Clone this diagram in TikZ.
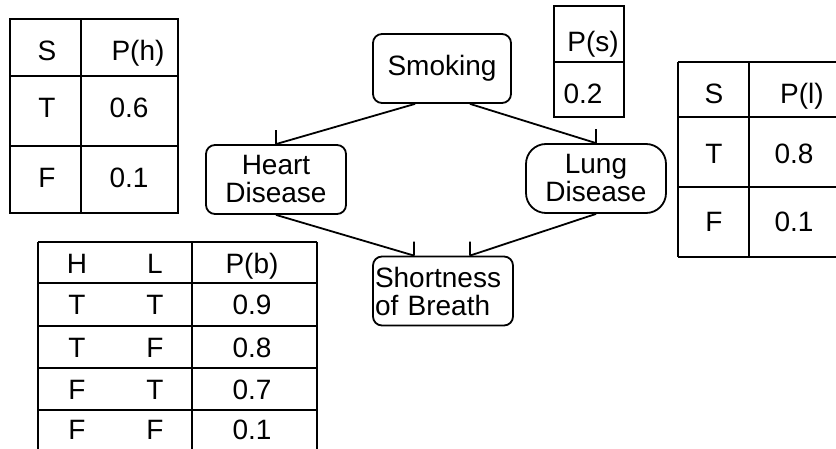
\documentclass[tikz,border=0pt]{standalone}
\usepackage{fontspec}
\setmainfont{Liberation Sans}
\usetikzlibrary{calc}

\begin{document}
\begin{tikzpicture}[x=1pt,y=-1pt,line width=1.8pt,
  every node/.style={font=\fontsize{28}{28}\selectfont},
  var/.style={draw,rounded corners=9pt,minimum width=140pt,minimum height=69pt,
    inner sep=1pt,align=center},
  cell/.style={inner sep=0pt,text height=20pt,text depth=0pt}]
  \useasboundingbox[fill=white] (0,0) rectangle (836,449);

  % network
  \node[var,minimum width=138pt] (smk) at (442,68.5) {Smoking};
  \node[var] (hd) at (276,179.5) {Heart\\Disease};
  \node[var,rounded corners=20pt] (ld) at (596,178.5) {Lung\\Disease};
  \node[var,align=left,text width=136pt] (sob) at (443,291) {Shortness\\of Breath};

  \draw ([xshift=-27pt]smk.south) -- (hd.north) ++(0,-14) -- (hd.north);
  \draw ([xshift=28pt]smk.south) -- (ld.north) ++(0,-14) -- (ld.north);
  \draw (hd.south) -- ([xshift=-29pt]sob.north) ++(0,-14) -- ([xshift=-29pt]sob.north);
  \draw (ld.south) -- ([xshift=27pt]sob.north) ++(0,-14) -- ([xshift=27pt]sob.north);

  % P(h)
  \draw (10,19) rectangle (178,213);
  \draw (81,19) -- (81,213);
  \foreach \y in {76,146} \draw (10,\y) -- (178,\y);
  \foreach \y/\a/\xb/\b [count=\i] in {51/S/138/P(h),108/T/129/0.6,178/F/129/0.1} {
    \node[cell] (h\i a) at (47,\y) {\a};
    \node[cell] (h\i b) at (\xb,\y) {\b};
  }

  % P(s)
  \draw (554,6) rectangle (624,117);
  \draw (554,62) -- (624,62);
  \node[cell] (s1) at (593,42) {P(s)};
  \node[cell] (s2) at (583,94) {0.2};

  % P(l)
  \foreach \y in {62,117,187,257} \draw (678,\y) -- (837,\y);
  \foreach \x in {678,749} \draw (\x,62) -- (\x,257);
  \foreach \y/\a/\xb/\b [count=\i] in {94/S/802/P(l),154/T/794/0.8,222/F/794/0.1} {
    \node[cell] (l\i a) at (714,\y) {\a};
    \node[cell] (l\i b) at (\xb,\y) {\b};
  }

  % P(b)
  \foreach \y in {242,283,326,368,410} \draw (38,\y) -- (317,\y);
  \foreach \x in {38,192,317} \draw (\x,242) -- (\x,450);
  \foreach \y/\h/\l/\p [count=\i] in {264/H/L/P(b),304.5/T/T/0.9,347/T/F/0.8,389/F/T/0.7,429/F/F/0.1} {
    \node[cell] (b\i h) at (77,\y) {\h};
    \node[cell] (b\i l) at (155,\y) {\l};
    \node[cell] (b\i p) at (252,\y) {\p};
  }
\end{tikzpicture}
\end{document}
